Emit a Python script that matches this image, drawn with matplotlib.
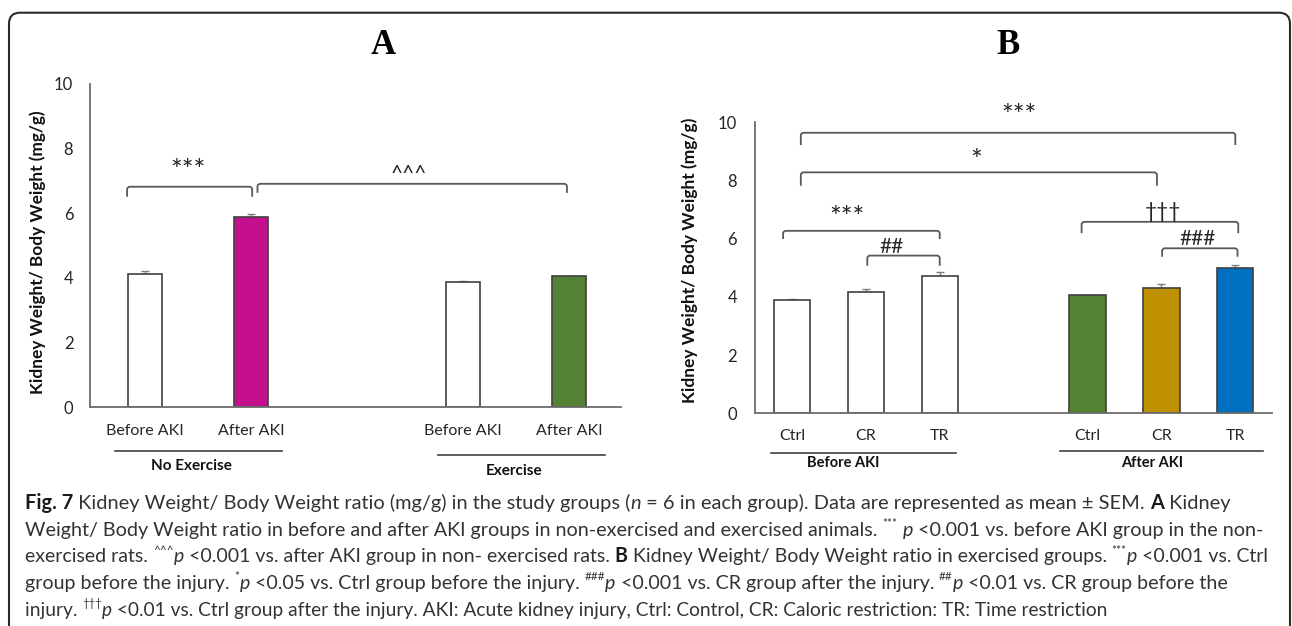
import matplotlib
matplotlib.use("Agg")
import matplotlib.pyplot as plt
from matplotlib.path import Path
from matplotlib.patches import PathPatch, FancyBboxPatch
from matplotlib.transforms import IdentityTransform

W, H = 1292, 626

# panel A data
a_labels = ["Before AKI", "After AKI", "Before AKI", "After AKI"]
a_pos = [0, 1, 3, 4]
a_vals = [4.12, 5.87, 3.86, 4.05]
a_err = [0.10, 0.10, 0.04, 0.01]
a_colors = ["white", "#C4108F", "white", "#548235"]
a_groups = ["No Exercise", "Exercise"]

# panel B data
b_labels = ["Ctrl", "CR", "TR", "Ctrl", "CR", "TR"]
b_pos = [0, 1, 2, 4, 5, 6]
b_vals = [3.89, 4.18, 4.71, 4.05, 4.31, 4.99]
b_err = [0.05, 0.10, 0.16, 0.01, 0.12, 0.11]
b_colors = ["white", "white", "white", "#548235", "#BF9000", "#0070C0"]
b_groups = ["Before AKI", "After AKI"]

# significance brackets: x1, x2, line y, leg y, label, label x, label y
a_sig = [(-0.17, 1.01, 6.82, 6.51, "***", 0.40, 7.28),
         (1.06, 3.98, 6.91, 6.63, "^^^", 2.49, 7.20)]
b_sig = [(0.12, 6.00, 9.64, 9.22, "***", 3.07, 10.18),
         (0.12, 4.94, 8.28, 7.82, "*", 2.49, 8.62),
         (-0.12, 2.00, 6.27, 5.99, "***", 0.75, 6.68),
         (1.02, 2.00, 5.42, 5.07, "##", 1.35, 5.70),
         (3.92, 6.04, 6.58, 6.19, "\u2020\u2020\u2020", 5.02, 6.92),
         (5.01, 6.03, 5.67, 5.38, "###", 5.49, 6.00)]

FONT = ["Lato", "DejaVu Sans"]
plt.rcParams["font.family"] = FONT

fig = plt.figure(figsize=(W / 100, H / 100), dpi=100)


def add_ax(l, r, t, b):
    return fig.add_axes([l / W, 1 - b / H, (r - l) / W, (b - t) / H])


def bracket(ax, x1, x2, y, yl, rx, ry):
    verts = [(x1, yl), (x1, y - ry), (x1, y), (x1 + rx, y), (x2 - rx, y),
             (x2, y), (x2, y - ry), (x2, yl)]
    codes = [Path.MOVETO, Path.LINETO, Path.CURVE3, Path.CURVE3, Path.LINETO,
             Path.CURVE3, Path.CURVE3, Path.LINETO]
    ax.add_patch(PathPatch(Path(verts, codes), fill=False, edgecolor="#595959",
                           lw=1.3, clip_on=False))


def sig_text(ax, x, y, lab):
    size = 20 if lab.startswith("*") else 15
    ax.text(x, y, lab, ha="center", va="center", fontsize=size, color="#262626")


def style_axes(ax, xlim, pad_y, pad_x):
    ax.set_ylim(0, 10)
    ax.set_xlim(*xlim)
    ax.set_yticks([0, 2, 4, 6, 8, 10])
    for s in ["top", "right"]:
        ax.spines[s].set_visible(False)
    for s in ["left", "bottom"]:
        ax.spines[s].set_color("#6b6b6b")
        ax.spines[s].set_linewidth(1.3)
    ax.tick_params(axis="y", length=0, pad=pad_y, labelsize=12, labelcolor="#262626")
    ax.tick_params(axis="x", length=0, pad=pad_x, labelsize=11.5, labelcolor="#262626")


# ---------- panel A ----------
axA = add_ax(90, 621, 84, 407)
axA.bar(a_pos, a_vals, width=0.32, color=a_colors, edgecolor="#404040", lw=1.2, zorder=2)
axA.errorbar(a_pos, a_vals, yerr=[[0] * 4, a_err], fmt="none", ecolor="#7f7f7f",
             capsize=3, elinewidth=1, zorder=1)
style_axes(axA, (-0.52, 4.49), 12, 12)
axA.set_xticks(a_pos)
axA.set_xticklabels(a_labels)
axA.set_ylabel("Kidney Weight/ Body Weight (mg/g)", fontsize=12.4, fontweight="bold",
               va="center", color="#111111")
axA.yaxis.set_label_coords(-0.098, 0.48)
for x1, x2, y, yl, lab, lx, ly in a_sig:
    bracket(axA, x1, x2, y, yl, 0.03, 0.08)
    sig_text(axA, lx, ly, lab)
for (x1, x2, yl, yt), g in zip([(-0.28, 1.29, -0.1353, -0.1817), (2.76, 4.34, -0.1486, -0.198)], a_groups):
    axA.plot([x1, x2], [yl, yl], color="#404040", lw=1.2, clip_on=False,
             transform=axA.get_xaxis_transform())
    axA.text((x1 + x2) / 2 - 0.07 * (x2 - x1) / 1.57, yt, g, ha="center", va="center", fontsize=11,
             fontweight="bold", transform=axA.get_xaxis_transform(), color="#111111")

# ---------- panel B ----------
axB = add_ax(755, 1271.5, 122.3, 413.3)
axB.bar(b_pos, b_vals, width=0.49, color=b_colors, edgecolor="#404040", lw=1.2, zorder=2)
axB.errorbar(b_pos, b_vals, yerr=[[0] * 6, b_err], fmt="none", ecolor="#7f7f7f",
             capsize=3, elinewidth=1, zorder=1)
style_axes(axB, (-0.5, 6.49), 13, 11)
axB.set_xticks(b_pos)
axB.set_xticklabels(b_labels)
axB.set_ylabel("Kidney Weight/ Body Weight (mg/g)", fontsize=12.5, fontweight="bold",
               va="center", color="#111111")
axB.yaxis.set_label_coords(-0.126, 0.527)
for x1, x2, y, yl, lab, lx, ly in b_sig:
    bracket(axB, x1, x2, y, yl, 0.04, 0.09)
    sig_text(axB, lx, ly, lab)
for (x1, x2, yl, lx, yt), g in zip([(-0.29, 2.22, -0.1375, 0.69, -0.1698),
                                   (3.63, 6.37, -0.1285, 4.88, -0.1698)], b_groups):
    axB.plot([x1, x2], [yl, yl], color="#404040", lw=1.2, clip_on=False,
             transform=axB.get_xaxis_transform())
    axB.text(lx, yt, g, ha="center", va="center", fontsize=10.5, fontweight="bold",
             transform=axB.get_xaxis_transform(), color="#111111")

# panel titles
fig.text(383 / W, 1 - 45 / H, "A", ha="center", va="center", fontsize=25,
         fontweight="bold", family="Liberation Serif")
fig.text(1008 / W, 1 - 45 / H, "B", ha="center", va="center", fontsize=25,
         fontweight="bold", family="Liberation Serif")

# outer rounded frame
fig.patches.append(FancyBboxPatch((9, -20), 1281, 626 - 12.7 + 20,
                                  boxstyle="round,pad=0,rounding_size=11",
                                  fill=False, edgecolor="#2b2b2b", lw=1.5,
                                  transform=IdentityTransform(), figure=fig))

# ---------- caption ----------
cap = [
    [("Fig. 7", "b"), (" Kidney Weight/ Body Weight ratio (mg/g) in the study groups (", "n"),
     ("n", "i"), (" = 6 in each group). Data are represented as mean \u00b1 SEM. ", "n"),
     ("A", "b"), (" Kidney", "n")],
    [("Weight/ Body Weight ratio in before and after AKI groups in non-exercised and exercised animals. ", "n"),
     ("***", "s"), (" ", "n"), ("p", "i"), (" <0.001 vs. before AKI group in the non-", "n")],
    [("exercised rats. ", "n"), ("^^^", "s"), ("p", "i"),
     (" <0.001 vs. after AKI group in non- exercised rats. ", "n"), ("B", "b"),
     (" Kidney Weight/ Body Weight ratio in exercised groups. ", "n"), ("***", "s"),
     ("p", "i"), (" <0.001 vs. Ctrl", "n")],
    [("group before the injury. ", "n"), ("*", "s"), ("p", "i"),
     (" <0.05 vs. Ctrl group before the injury. ", "n"), ("###", "s"), ("p", "i"),
     (" <0.001 vs. CR group after the injury. ", "n"), ("##", "s"), ("p", "i"),
     (" <0.01 vs. CR group before the", "n")],
    [("injury. ", "n"), ("\u2020\u2020\u2020", "s"), ("p", "i"),
     (" <0.01 vs. Ctrl group after the injury. AKI: Acute kidney injury, Ctrl: Control, "
      "CR: Caloric restriction: TR: Time restriction", "n")],
]
cap_ends = [1225, 1262, 1265, 1225, 1106]

renderer = fig.canvas.get_renderer()


def draw_caption_line(segs, x0, base, size, draw=True):
    x = x0
    arts = []
    for txt, st in segs:
        kw = dict(fontsize=size, color="#333333")
        dy = 0
        if st == "b":
            kw["fontweight"] = "bold"
            kw["color"] = "#1a1a1a"
        elif st == "i":
            kw["fontstyle"] = "italic"
        elif st == "s":
            kw["fontsize"] = size * 0.6
            dy = size * 0.45 * 100 / 72
        t = fig.text(x / W, 1 - (base - dy) / H, txt, ha="left", va="baseline", **kw)
        x += t.get_window_extent(renderer).width
        arts.append(t)
    if not draw:
        for t in arts:
            t.remove()
    return x - x0


for i, segs in enumerate(cap):
    w = draw_caption_line(segs, 25, 0, 12, draw=False)
    size = 12 * (cap_ends[i] - 25) / w
    draw_caption_line(segs, 25, 509 + 26.7 * i, size)

fig.savefig("out.png", dpi=100)
